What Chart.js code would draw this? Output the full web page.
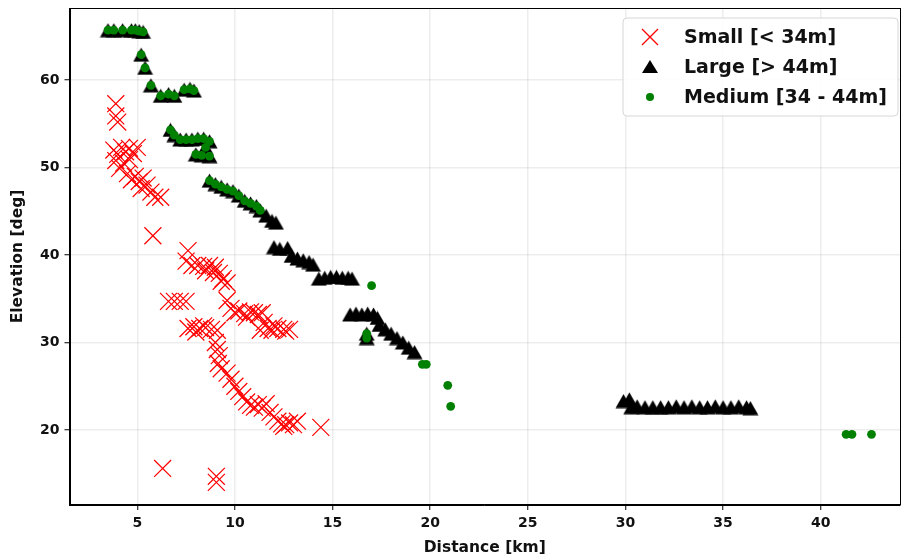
<!DOCTYPE html>
<html>
<head>
<meta charset="utf-8">
<script src="https://cdn.jsdelivr.net/npm/chart.js@4.4.1/dist/chart.umd.min.js"></script>
<style>
html,body{margin:0;padding:0;background:#fff;}
#wrap{width:901px;height:559px;}
</style>
</head>
<body>
<div id="wrap"><canvas id="c" width="901" height="559"></canvas></div>
<script>
const seriesLabels = ['Small [< 34m]', 'Large [> 44m]', 'Medium [34 - 44m]'];
const xTicks = [5, 10, 15, 20, 25, 30, 35, 40];
const yTicks = [20, 30, 40, 50, 60];

const smallX = [3.9,3.9,4.0, 3.8,4.0,4.2,4.4,4.6,4.8,5.0,3.9,4.3,4.6,4.1,
  4.5,4.7,4.9,5.1,5.3,5.5,5.2,5.7,5.9,6.2, 5.8,
  7.6,7.5,7.8,8.1,8.4,8.7,9.0,8.5,8.9,9.2,9.4,9.6,9.3,
  6.6,6.9,7.2,7.5,
  7.6,7.9,8.2,8.5,8.8,9.1,8.0,8.4,
  9.6,9.8,10.0,10.2,10.5,10.8,11.0,11.2,11.4,10.6,11.5,11.7,11.9,12.2,12.5,12.8,12.0,12.6,11.3,
  9.0,9.1,9.2,9.15,9.3,9.6,9.8,10.0,10.2,10.4,10.6,10.8,11.0,11.2,11.4,11.6,11.8,12.0,12.2,12.4,12.6,12.8,13.0,13.2,12.5,
  14.4,6.3,9.05,9.05];
const smallY = [57.3,55.9,55.2, 52.0,51.5,52.3,51.8,52.2,51.6,52.3,50.8,50.5,50.9,49.9,
  49.3,48.6,49.0,48.4,48.8,48.0,47.6,47.2,46.6,46.6, 42.2,
  40.5,39.3,38.8,38.8,38.7,38.8,38.6,38.2,38.0,37.9,37.3,36.8,37.0,
  34.7,34.7,34.7,34.7,
  31.6,31.8,31.6,31.7,31.5,31.4,31.2,31.9,
  34.8,33.9,33.4,33.6,33.3,33.5,33.4,33.2,33.4,32.9,32.3,31.6,31.4,31.6,31.5,31.5,31.9,31.3,31.4,
  30.0,29.2,28.5,27.6,27.0,26.5,25.8,25.0,24.4,23.8,23.2,22.8,22.6,22.9,22.5,23.0,22.0,21.5,21.0,20.7,20.6,20.8,20.6,21.0,20.4,
  20.3,15.6,14.7,14.0];

const largeX = [3.5,3.8,4.25,4.7,4.9,5.1,5.3,
  5.2,5.4,5.7,
  6.2,6.6,6.9,7.4,7.7,7.9,
  6.7,6.9,7.2,7.5,7.8,8.1,8.4,8.7,8.5,8.3,8.7,8.0,
  8.7,9.0,9.3,9.6,9.9,10.2,10.5,10.8,11.1,11.3,
  11.6,11.9,12.1,
  12.0,12.3,12.7,12.9,13.2,13.5,13.8,14.0,14.3,14.6,14.9,15.2,15.5,15.8,16.0,
  15.9,16.2,16.5,16.8,17.1,17.3,17.4,17.7,18.0,18.3,18.6,18.9,19.2,16.75,16.75,
  29.9,30.2,30.3,30.6,31.0,31.4,31.8,32.2,32.6,33.0,33.4,33.8,34.2,34.6,35.0,35.4,35.8,36.2,36.4];
const largeY = [65.7,65.7,65.7,65.7,65.7,65.6,65.5,
  62.9,61.4,59.4,
  58.2,58.4,58.2,58.9,59.0,58.8,
  54.3,53.7,53.2,53.2,53.2,53.3,53.3,53.0,52.3,51.4,51.3,51.5,
  48.5,48.1,47.8,47.5,47.3,46.8,46.2,45.9,45.6,45.1,
  44.5,43.9,43.7,
  40.9,40.7,40.8,39.9,39.6,39.4,39.2,38.9,37.3,37.4,37.5,37.5,37.4,37.4,37.3,
  33.2,33.3,33.2,33.3,33.2,32.8,32.0,31.5,31.0,30.5,30.0,29.4,28.9,30.5,31.0,
  23.3,23.5,22.6,22.7,22.6,22.6,22.6,22.6,22.7,22.6,22.7,22.6,22.6,22.7,22.6,22.6,22.7,22.6,22.5];

const mediumX = [3.5,3.8,4.25,4.7,4.9,5.1,5.3,
  5.2,5.4,5.7,
  6.2,6.6,6.9,7.4,7.7,7.9,
  6.7,6.9,7.2,7.5,7.8,8.1,8.4,8.7,8.5,8.3,8.7,8.0,
  8.7,9.0,9.3,9.6,9.9,10.2,10.5,10.8,11.1,11.3,
  16.75,16.75,17.0,19.6,19.8,20.9,21.05,41.3,41.6,42.6];
const mediumY = [65.7,65.7,65.7,65.7,65.7,65.6,65.5,
  62.9,61.4,59.4,
  58.2,58.4,58.2,58.9,59.0,58.8,
  54.3,53.7,53.2,53.2,53.2,53.3,53.3,53.0,52.3,51.4,51.3,51.5,
  48.5,48.1,47.8,47.5,47.3,46.8,46.2,45.9,45.6,45.1,
  30.5,31.0,36.5,27.5,27.5,25.1,22.7,19.5,19.5,19.5];

const toPts = (xs, ys) => xs.map((x, i) => ({x: x, y: ys[i]}));

const FONT = "'DejaVu Sans', sans-serif";
const X_MIN = 1.53, X_MAX = 44.06, Y_MIN = 11.42, Y_MAX = 68.24;

// matplotlib-like '^' marker: triangle centred on its bounding box
function makeTriangle(w, h, color) {
  const c = document.createElement('canvas');
  c.width = w; c.height = h;
  const g = c.getContext('2d');
  g.fillStyle = color;
  g.beginPath();
  g.moveTo(w / 2, 0.5);
  g.lineTo(w - 0.5, h - 0.5);
  g.lineTo(0.5, h - 0.5);
  g.closePath();
  g.fill();
  return c;
}
const triMarker = makeTriangle(17, 15, '#000');

const framePlugin = {
  id: 'frame',
  afterDraw(chart) {
    const ctx = chart.ctx, a = chart.chartArea;
    ctx.save();
    ctx.strokeStyle = '#000';
    ctx.lineWidth = 1;
    ctx.strokeRect(Math.round(a.left) + 0.5, Math.round(a.top) + 0.5,
                   Math.round(a.right - a.left) - 1, Math.round(a.bottom - a.top) - 1);
    const bx = 623, by = 18, bw = 275, bh = 98, r = 4;
    ctx.beginPath();
    ctx.moveTo(bx + r, by);
    ctx.lineTo(bx + bw - r, by);
    ctx.quadraticCurveTo(bx + bw, by, bx + bw, by + r);
    ctx.lineTo(bx + bw, by + bh - r);
    ctx.quadraticCurveTo(bx + bw, by + bh, bx + bw - r, by + bh);
    ctx.lineTo(bx + r, by + bh);
    ctx.quadraticCurveTo(bx, by + bh, bx, by + bh - r);
    ctx.lineTo(bx, by + r);
    ctx.quadraticCurveTo(bx, by, bx + r, by);
    ctx.closePath();
    ctx.fillStyle = 'rgba(255,255,255,0.85)';
    ctx.fill();
    ctx.strokeStyle = '#d6d6d6';
    ctx.lineWidth = 1;
    ctx.stroke();
    const mx = 650;
    const rows = [37, 67, 97];
    ctx.strokeStyle = '#ff0000';
    ctx.lineWidth = 1.3;
    ctx.beginPath();
    ctx.moveTo(mx - 8, rows[0] - 8); ctx.lineTo(mx + 8, rows[0] + 8);
    ctx.moveTo(mx + 8, rows[0] - 8); ctx.lineTo(mx - 8, rows[0] + 8);
    ctx.stroke();
    ctx.fillStyle = '#000';
    ctx.beginPath();
    ctx.moveTo(mx, rows[1] - 7); ctx.lineTo(mx + 8, rows[1] + 6); ctx.lineTo(mx - 8, rows[1] + 6);
    ctx.closePath(); ctx.fill();
    ctx.fillStyle = '#008000';
    ctx.beginPath(); ctx.arc(mx, rows[2], 4, 0, Math.PI * 2); ctx.fill();
    ctx.fillStyle = '#111';
    ctx.font = 'bold 19px ' + FONT;
    ctx.textBaseline = 'middle';
    ctx.textAlign = 'left';
    seriesLabels.forEach((t, i) => ctx.fillText(t, 684, rows[i] + 1));
    ctx.restore();
  }
};

new Chart(document.getElementById('c'), {
  type: 'scatter',
  data: {
    datasets: [
      {label: seriesLabels[0], data: toPts(smallX, smallY), order: 2,
       pointStyle: 'crossRot', pointRadius: 12, borderColor: '#ff0000', backgroundColor: '#ff0000', pointBorderWidth: 1.2},
      {label: seriesLabels[1], data: toPts(largeX, largeY), order: 1,
       pointStyle: triMarker, pointRadius: 8, borderColor: '#000', backgroundColor: '#000', pointBorderWidth: 0},
      {label: seriesLabels[2], data: toPts(mediumX, mediumY), order: 0,
       pointStyle: 'circle', pointRadius: 4.4, borderColor: '#008000', backgroundColor: '#008000', pointBorderWidth: 0}
    ]
  },
  options: {
    responsive: false,
    animation: false,
    events: [],
    layout: {autoPadding: false, padding: {left: 0, right: 1, top: 8, bottom: 0}},
    plugins: {legend: {display: false}, tooltip: {enabled: false}},
    scales: {
      x: {
        type: 'linear', min: X_MIN, max: X_MAX,
        afterFit(s) { s.height = 54; s.paddingLeft = 0; s.paddingRight = 0; },
        afterBuildTicks(s) { s.ticks = xTicks.map(v => ({value: v})); },
        grid: {color: 'rgba(0,0,0,0.07)', lineWidth: 1.5, tickColor: '#000', tickLength: 5, tickWidth: 1},
        border: {display: true, color: '#000', width: 1},
        ticks: {color: '#111', font: {family: FONT, size: 14, weight: 'bold'}, padding: 5, maxRotation: 0},
        title: {display: true, text: 'Distance [km]', color: '#111', font: {family: FONT, size: 15.5, weight: 'bold'}, padding: {top: 0, bottom: 2}}
      },
      y: {
        type: 'linear', min: Y_MIN, max: Y_MAX,
        afterFit(s) { s.width = 69.5; s.paddingTop = 0; s.paddingBottom = 0; },
        afterBuildTicks(s) { s.ticks = yTicks.map(v => ({value: v})); },
        grid: {color: 'rgba(0,0,0,0.07)', lineWidth: 1.5, tickColor: '#000', tickLength: 5, tickWidth: 1},
        border: {display: true, color: '#000', width: 1},
        ticks: {color: '#111', font: {family: FONT, size: 14, weight: 'bold'}, padding: 5},
        title: {display: true, text: 'Elevation [deg]', color: '#111', font: {family: FONT, size: 15.5, weight: 'bold'}, padding: {top: 9, bottom: 0}}
      }
    }
  },
  plugins: [framePlugin]
});
</script>
</body>
</html>
